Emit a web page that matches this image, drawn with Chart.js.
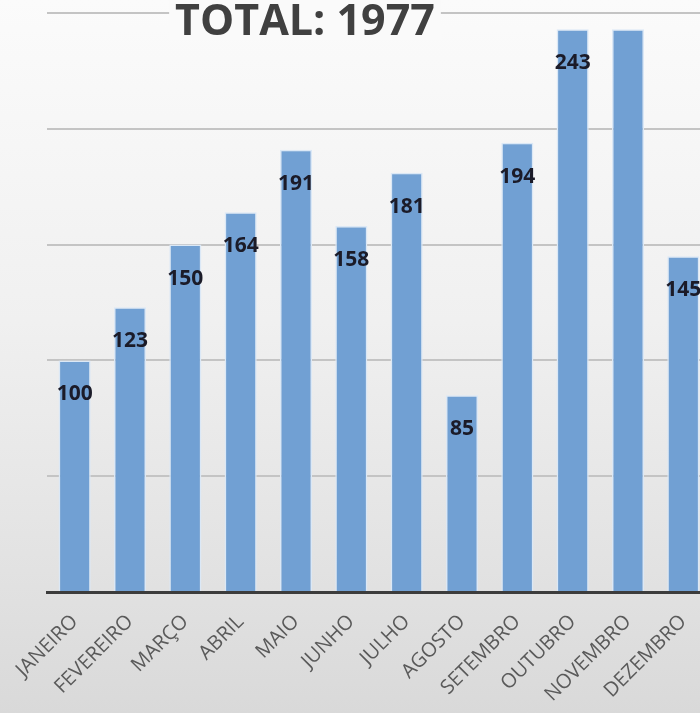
<!DOCTYPE html>
<html>
<head>
<meta charset="utf-8">
<script src="https://cdn.jsdelivr.net/npm/chart.js@4"></script>
<style>
  html, body { margin: 0; padding: 0; width: 700px; height: 713px; overflow: hidden; }
  body { background: linear-gradient(to bottom, #fbfbfb 0%, #f0f0f0 45%, #e2e2e2 80%, #d9d9d9 100%); }
  #chart { position: absolute; left: 0; top: 0; }
</style>
</head>
<body>
<canvas id="chart" width="730" height="713"></canvas>
<script>
// Dados do gráfico
const months = ['JANEIRO', 'FEVEREIRO', 'MARÇO', 'ABRIL', 'MAIO', 'JUNHO',
                'JULHO', 'AGOSTO', 'SETEMBRO', 'OUTUBRO', 'NOVEMBRO', 'DEZEMBRO'];
const totals = [100, 123, 150, 164, 191, 158, 181, 85, 194, 243, 243, 145];
const hiddenLabels = ['NOVEMBRO']; // sem rótulo no original
const titleText = 'TOTAL: 1977';
const yMax = 250;
const yStep = 50;

// Rótulos de valor dentro das barras + título
const barLabels = {
    id: 'barLabels',
    afterDatasetsDraw(chart) {
        const ctx = chart.ctx;
        const meta = chart.getDatasetMeta(0);
        ctx.save();
        ctx.font = 'bold 21px "Open Sans"';
        ctx.fillStyle = '#1b1b28';
        ctx.textAlign = 'center';
        ctx.textBaseline = 'middle';
        meta.data.forEach((bar, i) => {
            if (hiddenLabels.includes(months[i])) return;
            ctx.fillText(totals[i], bar.x, bar.y + 34);
        });
        ctx.restore();
    },
    afterDraw(chart) {
        const ctx = chart.ctx;
        ctx.save();
        ctx.font = 'bold 43px "Open Sans"';
        const w = ctx.measureText(titleText).width;
        ctx.fillStyle = '#fafafa';
        ctx.fillRect(305 - w / 2 - 6, 0, w + 12, 40);
        ctx.fillStyle = '#404040';
        ctx.textAlign = 'center';
        ctx.textBaseline = 'alphabetic';
        ctx.fillText(titleText, 305, 35);
        ctx.restore();
    }
};

new Chart(document.getElementById('chart'), {
    type: 'bar',
    data: {
        labels: months,
        datasets: [{
            data: totals,
            backgroundColor: '#71a0d3',
            borderColor: '#dbe8f6',
            borderWidth: 1.5,
            barPercentage: 0.58,
            categoryPercentage: 1
        }]
    },
    options: {
        responsive: false,
        animation: false,
        devicePixelRatio: 1,
        layout: { padding: { top: 13, right: 19, left: 0, bottom: 0 } },
        plugins: {
            legend: { display: false },
            tooltip: { enabled: false }
        },
        scales: {
            y: {
                min: 0,
                max: yMax,
                ticks: { display: false, stepSize: yStep },
                grid: { color: '#c4c4c4', lineWidth: 2, drawTicks: false },
                border: { display: false },
                afterFit: s => { s.width = 47; }
            },
            x: {
                grid: { display: false },
                border: { color: '#3c3c3c', width: 3 },
                ticks: {
                    color: '#5a5a5a',
                    font: { family: 'Open Sans', size: 20 },
                    minRotation: 45,
                    maxRotation: 45,
                    autoSkip: false,
                    padding: 10
                },
                afterFit: s => { s.height = 121; }
            }
        }
    },
    plugins: [barLabels]
});
</script>
</body>
</html>
